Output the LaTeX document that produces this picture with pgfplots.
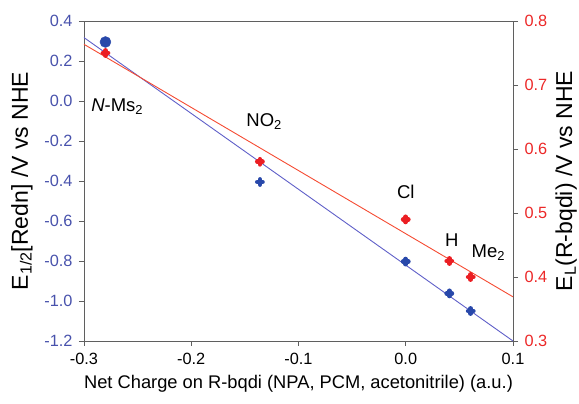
\documentclass[border=0pt]{standalone}
\usepackage{fontspec}
\setmainfont{Liberation Sans}
\usepackage{pgfplots}
\pgfplotsset{compat=1.18}
\definecolor{blueT}{RGB}{72,82,172}
\definecolor{blueM}{RGB}{40,72,170}
\definecolor{blueL}{RGB}{95,95,200}
\definecolor{redT}{RGB}{236,40,40}
\definecolor{redM}{RGB}{235,30,35}
\definecolor{redL}{RGB}{245,75,50}
\definecolor{axgray}{RGB}{95,95,95}
\begin{document}
\begin{tikzpicture}
\path[use as bounding box] (-84pt,-63pt) rectangle (495pt,341pt);
\pgfplotsset{
  every axis/.append style={
    scale only axis, width=429pt, height=320pt,
    xmin=-0.3, xmax=0.1,
    tick align=outside, major tick length=5pt,
    axis line style={axgray, line width=0.8pt},
    every tick/.style={axgray, line width=0.8pt},
    /pgf/number format/assume math mode=true,
    /pgf/number format/fixed, /pgf/number format/fixed zerofill,
    /pgf/number format/precision=1,
    tick label style={font=\fontsize{16.3}{18}\selectfont},
    clip=false,
  }
}
\begin{axis}[
  ymin=-1.2, ymax=0.4,
  ytick={-1.2,-1.0,-0.8,-0.6,-0.4,-0.2,0.0,0.2,0.4},
  xtick={-0.3,-0.2,-0.1,0.0,0.1},
  xtick pos=bottom, ytick pos=left,
  yticklabel style={text=blueT, xshift=-3pt},
  xticklabel style={yshift=-4pt},
  xlabel={Net Charge on R-bqdi (NPA, PCM, acetonitrile) (a.u.)},
  ylabel={E\textsubscript{1/2}[Redn] /V vs NHE},
  every axis x label/.style={at={(axis description cs:0.5,-0.133)}, anchor=center, font=\fontsize{18.3}{21}\selectfont},
  every axis y label/.style={at={(axis description cs:-0.1445,0.5)}, rotate=90, anchor=center, font=\fontsize{23}{26}\selectfont},
]
\addplot[blueL, line width=0.9pt] coordinates {(-0.3,0.317) (0.1,-1.2)};
\addplot[only marks, mark=*, mark size=5.5pt, blueM] coordinates {(-0.280,0.295)};
\addplot[only marks, mark=+, mark size=2.6pt, blueM, mark options={line width=4.6pt, line cap=round}] coordinates {
(-0.136,-0.405) (0.0,-0.803) (0.0406,-0.962) (0.0606,-1.05)};
\node[font=\fontsize{18.5}{21}\selectfont] at (axis cs:-0.269,-0.03) {\textit{N}-Ms\textsubscript{2}};
\node[font=\fontsize{18.5}{21}\selectfont] at (axis cs:-0.132,-0.105) {NO\textsubscript{2}};
\node[font=\fontsize{18.5}{21}\selectfont] at (axis cs:0.0,-0.455) {Cl};
\node[font=\fontsize{18.5}{21}\selectfont] at (axis cs:0.043,-0.695) {H};
\node[font=\fontsize{18.5}{21}\selectfont] at (axis cs:0.077,-0.76) {Me\textsubscript{2}};
\end{axis}
\begin{axis}[
  ymin=0.3, ymax=0.8,
  ytick={0.3,0.4,0.5,0.6,0.7,0.8},
  hide x axis, axis y line*=right,
  yticklabel style={text=redT, xshift=3pt},
  ylabel={E\textsubscript{L}(R-bqdi) /V vs NHE},
  every axis y label/.style={at={(axis description cs:1.124,0.5)}, rotate=90, anchor=center, font=\fontsize{23}{26}\selectfont},
]
\addplot[redL, line width=0.9pt] coordinates {(-0.3,0.7636) (0.1,0.369)};
\addplot[only marks, mark=+, mark size=2.6pt, redM, mark options={line width=4.6pt, line cap=round}] coordinates {
(-0.280,0.750) (-0.136,0.580) (0.0,0.490) (0.0406,0.425) (0.0606,0.400)};
\end{axis}
\end{tikzpicture}
\end{document}
